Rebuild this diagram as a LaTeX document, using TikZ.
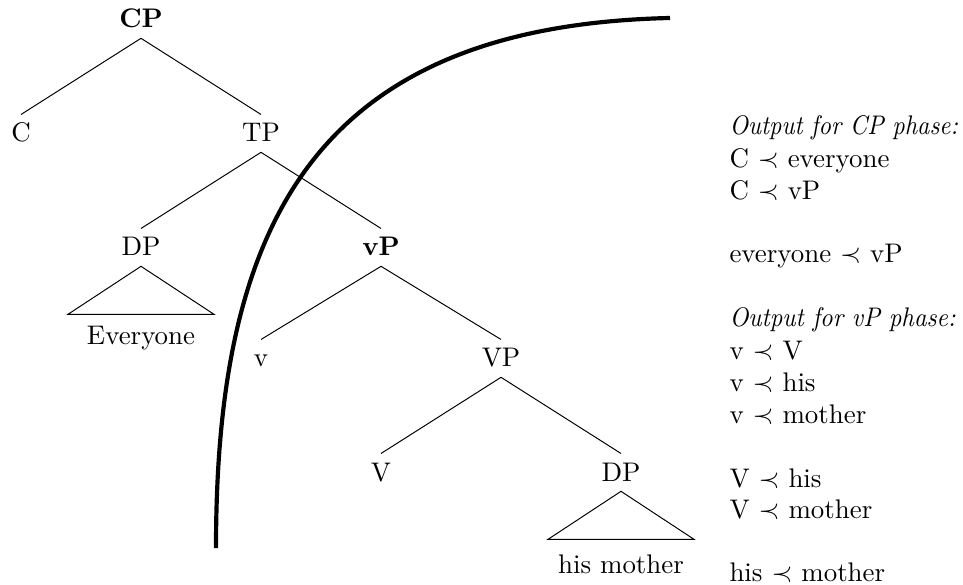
\documentclass[tikz,border=0pt,11pt]{standalone}
\usepackage{amsmath,amssymb}
\usepackage{graphicx}
\usepackage{tikz}

\begin{document}
\begin{tikzpicture}[x=0.407pt,y=0.407pt,yscale=-1,xscale=1,
  tnode/.style={anchor=base,inner sep=0pt,text height=11pt,text depth=4pt},
  otext/.style={anchor=base west,inner sep=0pt}]
\useasboundingbox (0,0) rectangle (963,585);

% Text Node
\draw (141,28) node [tnode] (cp) {\textbf{CP}};
% Text Node
\draw (21,142) node [tnode] (c) {C};
% Text Node
\draw (261,142) node [tnode] (tp) {TP};
% Text Node
\draw (141,256) node [tnode] (dpa) {DP};
% Text Node
\draw (381,256) node [tnode] (vp) {\textbf{vP}};
% Text Node
\draw (261,367) node [tnode] (lv) {v};
% Text Node
\draw (501,367) node [tnode] (bigvp) {VP};
% Text Node
\draw (381,481) node [tnode] (bigv) {V};
% Text Node
\draw (621,481) node [tnode] (dpb) {DP};
% Text Node
\draw (141,345) node [anchor=base,inner sep=0pt] (everyone) {Everyone};
% Text Node
\draw (621,573) node [anchor=base,inner sep=0pt] (hismother) {his mother};

%Straight Lines
\draw (cp.south) -- (c.north);
\draw (cp.south) -- (tp.north);
\draw (tp.south) -- (dpa.north);
\draw (tp.south) -- (vp.north);
\draw (vp.south) -- (lv.north);
\draw (vp.south) -- (bigvp.north);
\draw (bigvp.south) -- (bigv.north);
\draw (bigvp.south) -- (dpb.north);
%Shape: Triangle
\draw (dpa.south) -- ++(-73,48) -- ++(146,0) -- cycle;
%Shape: Triangle
\draw (dpb.south) -- ++(-73,48) -- ++(146,0) -- cycle;

%Curve Lines
\draw [line width=1.7pt] (216,548) .. controls (216,230) and (310,26) .. (670,18);

% Text Node
\draw (729,135) node [otext] (outcp) {\resizebox{93pt}{\height}{\textit{Output for CP phase:}}};
% Text Node
\draw (729,168) node [otext] (ca) {C $\prec$ everyone};
% Text Node
\draw (729,200) node [otext] (cb) {C $\prec$ vP};
% Text Node
\draw (729,263) node [otext] (ev) {everyone $\prec$ vP};
% Text Node
\draw (729,327) node [otext] (outvp) {\resizebox{92pt}{\height}{\textit{Output for vP phase:}}};
% Text Node
\draw (729,360) node [otext] (va) {v $\prec$ V};
% Text Node
\draw (729,392) node [otext] (vb) {v $\prec$ his};
% Text Node
\draw (729,423) node [otext] (vc) {v $\prec$ mother};
% Text Node
\draw (729,487) node [otext] (bva) {V $\prec$ his};
% Text Node
\draw (729,518) node [otext] (bvb) {V $\prec$ mother};
% Text Node
\draw (729,581) node [otext] (hm) {his $\prec$ mother};
\end{tikzpicture}
\end{document}
